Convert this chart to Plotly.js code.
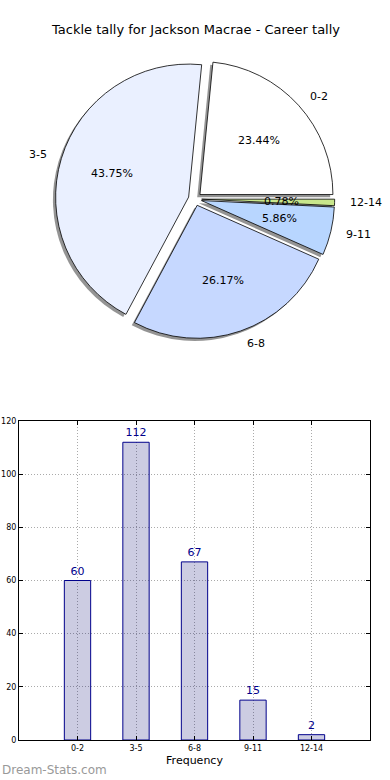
<!DOCTYPE html>
<html>
<head>
<meta charset="utf-8">
<script src="https://cdn.plot.ly/plotly-3.0.1.min.js"></script>
<style>html,body{margin:0;padding:0;background:#fff;}#chart{width:390px;height:780px;}</style>
</head>
<body>
<div id="chart"></div>
<script>
var categories = ["0-2", "3-5", "6-8", "9-11", "12-14"];
var counts = [60, 112, 67, 15, 2];
var sliceColors = ["#ffffff", "#eaf0ff", "#c6d8ff", "#b8d6ff", "#c8e68c"];
var pieTitle = "Tackle tally for Jackson Macrae - Career tally";

var W = 390, H = 780;
var cx = 195, cy = 199, R = 133, pull = 0.05;
var box = 2 * R * (1 + pull);
function px2x(p) { return p / W; }
function py2y(p) { return 1 - p / H; }
var pieDomain = { x: [px2x(cx - box / 2), px2x(cx + box / 2)], y: [py2y(cy + box / 2), py2y(cy - box / 2)] };
var sh = 2.7;
var shadowDomain = { x: [px2x(cx - sh - box / 2), px2x(cx - sh + box / 2)], y: [py2y(cy + sh + box / 2), py2y(cy + sh - box / 2)] };

// drawn clockwise from 3 o'clock in reversed order == counterclockwise in natural order
var revCats = categories.slice().reverse();
var revCounts = counts.slice().reverse();
var revColors = sliceColors.slice().reverse();
var pulls = categories.map(function () { return pull; });

var shadow = {
  type: "pie", values: revCounts, labels: revCats, sort: false,
  direction: "clockwise", rotation: 90, pull: pulls,
  marker: { colors: revCats.map(function () { return "rgba(60,60,60,0.55)"; }), line: { width: 0 } },
  textinfo: "none", hoverinfo: "skip", showlegend: false, domain: shadowDomain
};
var pie = {
  type: "pie", values: revCounts, labels: revCats, sort: false,
  direction: "clockwise", rotation: 90, pull: pulls,
  marker: { colors: revColors, line: { color: "#000", width: 0.8 } },
  textinfo: "none", showlegend: false, domain: pieDomain
};
var bars = {
  type: "bar", x: categories, y: counts, width: 0.45,
  marker: { color: "rgba(0,0,110,0.2)", line: { color: "#00008b", width: 1 } },
  text: counts.map(String), textposition: "outside", cliponaxis: false,
  textfont: { family: "DejaVu Sans", size: 11, color: "#00008b" },
  xaxis: "x", yaxis: "y", showlegend: false
};

// pie annotations computed from the data
var total = counts.reduce(function (a, b) { return a + b; }, 0);
var annotations = [];
var cum = 0;
counts.forEach(function (v, i) {
  var a0 = cum / total * 2 * Math.PI;
  cum += v;
  var a1 = cum / total * 2 * Math.PI;
  var am = (a0 + a1) / 2;
  var ox = cx + pull * R * Math.cos(am), oy = cy - pull * R * Math.sin(am);
  var lx = ox + 1.1 * R * Math.cos(am), ly = oy - 1.1 * R * Math.sin(am);
  var qx = ox + 0.6 * R * Math.cos(am), qy = oy - 0.6 * R * Math.sin(am);
  var c = Math.cos(am);
  annotations.push({
    xref: "paper", yref: "paper", x: px2x(lx), y: py2y(ly), text: categories[i], showarrow: false,
    xanchor: c > 0.05 ? "left" : (c < -0.05 ? "right" : "center"), yanchor: "middle",
    font: { family: "DejaVu Sans", size: 11, color: "#000" }
  });
  annotations.push({
    xref: "paper", yref: "paper", x: px2x(qx), y: py2y(qy), text: (v / total * 100).toFixed(2) + "%", showarrow: false,
    xanchor: "center", yanchor: "middle",
    font: { family: "DejaVu Sans", size: 11, color: "#000" }
  });
});
annotations.push({
  xref: "paper", yref: "paper", x: px2x(195), y: py2y(30), text: pieTitle, showarrow: false,
  xanchor: "center", yanchor: "middle", font: { family: "DejaVu Sans", size: 13, color: "#000" }
});
annotations.push({
  xref: "paper", yref: "paper", x: 0, y: py2y(770), text: "Dream-Stats.com", showarrow: false,
  xanchor: "left", yanchor: "middle", font: { family: "DejaVu Sans", size: 12, color: "#999" }
});

var layout = {
  width: W, height: H,
  margin: { l: 0, r: 0, t: 0, b: 0 },
  paper_bgcolor: "#fff", plot_bgcolor: "#fff",
  xaxis: {
    domain: [px2x(19), px2x(370)], anchor: "y", type: "category", range: [-1, 5],
    showline: true, linecolor: "#000", linewidth: 1, mirror: "allticks",
    ticks: "inside", ticklen: 4, tickcolor: "#000",
    showgrid: true, gridcolor: "#aaa", griddash: "1px,2px", gridwidth: 1,
    tickfont: { family: "DejaVu Sans", size: 8, color: "#000" },
    title: { text: "Frequency", font: { family: "DejaVu Sans", size: 11, color: "#000" }, standoff: 4 },
    zeroline: false, fixedrange: true
  },
  yaxis: {
    domain: [py2y(740), py2y(421)], anchor: "x", range: [0, 120], dtick: 20,
    showline: true, linecolor: "#000", linewidth: 1, mirror: "allticks",
    ticks: "inside", ticklen: 4, tickcolor: "#000",
    showgrid: true, gridcolor: "#aaa", griddash: "1px,2px", gridwidth: 1,
    tickfont: { family: "DejaVu Sans", size: 8, color: "#000" },
    zeroline: false, fixedrange: true
  },
  annotations: annotations
};

Plotly.newPlot("chart", [shadow, pie, bars], layout, { displayModeBar: false, staticPlot: true });
</script>
</body>
</html>
